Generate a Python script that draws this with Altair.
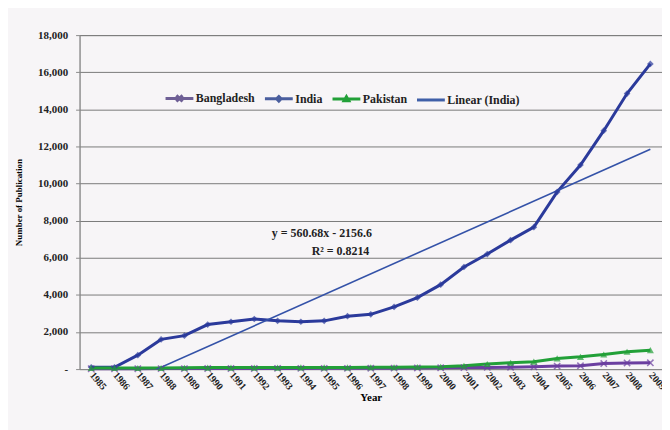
import altair as alt
import pandas as pd

years = list(range(1985, 2010))
india = [100, 100, 750, 1600, 1800, 2400, 2550, 2700, 2600, 2550, 2600, 2850, 2950,
         3350, 3850, 4550, 5500, 6200, 6950, 7650, 9550, 11000, 12850, 14850, 16450]
pakistan = [60, 60, 60, 60, 70, 80, 80, 80, 80, 90, 90, 90, 100,
            100, 110, 130, 180, 270, 340, 400, 575, 660, 790, 930, 1020]
bangladesh = [20, 20, 20, 25, 25, 30, 30, 30, 35, 35, 40, 40, 45,
              50, 60, 70, 80, 90, 100, 120, 160, 180, 300, 330, 340]

series_names = ["Bangladesh", "India", "Pakistan", "Linear (India)"]
series_colors = ["#6B3FA0", "#2B3A9B", "#22A038", "#3452A8"]
legend_colors = ["#6E5F95", "#4A5E9E", "#22A038", "#3F5FA8"]
legend_paths = [
    "M-1,0L1,0M-0.22,-0.22L0.22,0.22M-0.22,0.22L0.22,-0.22",
    "M-1,0L1,0M0,-0.16L0.16,0L0,0.16L-0.16,0Z",
    "M-1,0L1,0M0,-0.17L0.17,0.13L-0.17,0.13Z",
    "M-1,0L1,0",
]
eq_lines = ["y = 560.68x - 2156.6", "R² = 0.8214"]
eq_x = [1994.9, 1995.7]
eq_y = [7350, 6380]

rows = []
for name, vals in [("Bangladesh", bangladesh), ("India", india), ("Pakistan", pakistan)]:
    for yr, v in zip(years, vals):
        rows.append({"Year": yr, "Value": v, "Series": name})
df = pd.DataFrame(rows)
india_df = pd.DataFrame({"Year": years, "Value": india})
legend_df = pd.DataFrame({"Legend": series_names})
eq_df = pd.DataFrame({"label": eq_lines, "Year": eq_x, "Value": eq_y})

FONT = "Liberation Serif, DejaVu Serif, serif"

xscale = alt.Scale(domain=[1984.5, 2009.5], nice=False, zero=False)
yscale = alt.Scale(domain=[0, 18000], nice=False)

x_enc = alt.X("Year:Q", scale=xscale,
              axis=alt.Axis(values=years, format="d", title="Year", labelAngle=50,
                            labelAlign="left", labelBaseline="middle", labelPadding=4,
                            labelFont=FONT, labelFontWeight="bold", labelFontSize=10,
                            labelColor="#222", titleFont=FONT, titleFontWeight="bold",
                            titleFontSize=11, titlePadding=0, grid=False, ticks=False,
                            domainColor="#8a8a8a", labelOverlap=False))
y_enc = alt.Y("Value:Q", scale=yscale,
              axis=alt.Axis(values=list(range(0, 18001, 2000)),
                            labelExpr="datum.value == 0 ? '-' : format(datum.value, ',')",
                            title="Number of Publication", labelFont=FONT,
                            labelFontWeight="bold", labelFontSize=11, labelColor="#222",
                            labelPadding=8, tickSize=4, tickColor="#8a8a8a",
                            labelOverlap=False,
                            titleFont=FONT, titleFontWeight="bold", titleFontSize=9,
                            titlePadding=14, gridColor="#7a7a7a", gridWidth=1,
                            domainColor="#8a8a8a"))

color_scale = alt.Scale(domain=series_names, range=series_colors)
color_nolegend = alt.Color("Series:N", scale=color_scale, legend=None)

lines = alt.Chart(df).mark_line(strokeWidth=3).encode(
    x=x_enc, y=y_enc, color=color_nolegend, order=alt.Order("Year:Q"),
)


def pts(name, **kw):
    return alt.Chart(df).transform_filter(alt.datum.Series == name).mark_point(**kw).encode(
        x=x_enc, y=y_enc, color=color_nolegend)


pts_b = pts("Bangladesh", shape="M-1,-1L1,1M-1,1L1,-1", filled=False, size=40, strokeWidth=1.5)
pts_i = pts("India", shape="diamond", filled=True, size=45)
pts_p = pts("Pakistan", shape="triangle-up", filled=True, size=50)

trend = alt.Chart(india_df).transform_regression("Year", "Value").mark_line(
    strokeWidth=1.6, color="#3452A8", clip=True).encode(x=x_enc, y=y_enc)

eq_text = alt.Chart(eq_df).mark_text(font=FONT, fontWeight="bold", fontSize=12,
                                     color="#222").encode(x=x_enc, y=y_enc, text="label:N")

leg = alt.Legend(title=None, orient="none", legendX=85, legendY=48,
                 direction="horizontal", symbolSize=784,
                 labelFont=FONT, labelFontWeight="bold",
                 labelFontSize=12, labelColor="#222", labelOffset=1,
                 columnPadding=3, symbolStrokeWidth=3, symbolOpacity=1)

legend_layer = alt.Chart(legend_df).mark_point(filled=False, opacity=0, strokeWidth=3).encode(
    color=alt.Color("Legend:N", scale=alt.Scale(domain=series_names, range=legend_colors),
                    legend=leg),
    shape=alt.Shape("Legend:N", scale=alt.Scale(domain=series_names, range=legend_paths),
                    legend=leg),
)

chart = alt.layer(lines, trend, pts_b, pts_i, pts_p, eq_text, legend_layer).resolve_scale(
    color="independent", shape="independent"
).properties(
    width=586, height=336,
    autosize=alt.AutoSizeParams(type="none"),
    padding={"left": 72, "top": 26, "right": 0, "bottom": 60},
    background="#F7F5F7",
).configure_view(fill="#FBF4F7", stroke="#9a9a9a")

chart.save("out.html", embed_options={"renderer": "svg", "actions": False})
